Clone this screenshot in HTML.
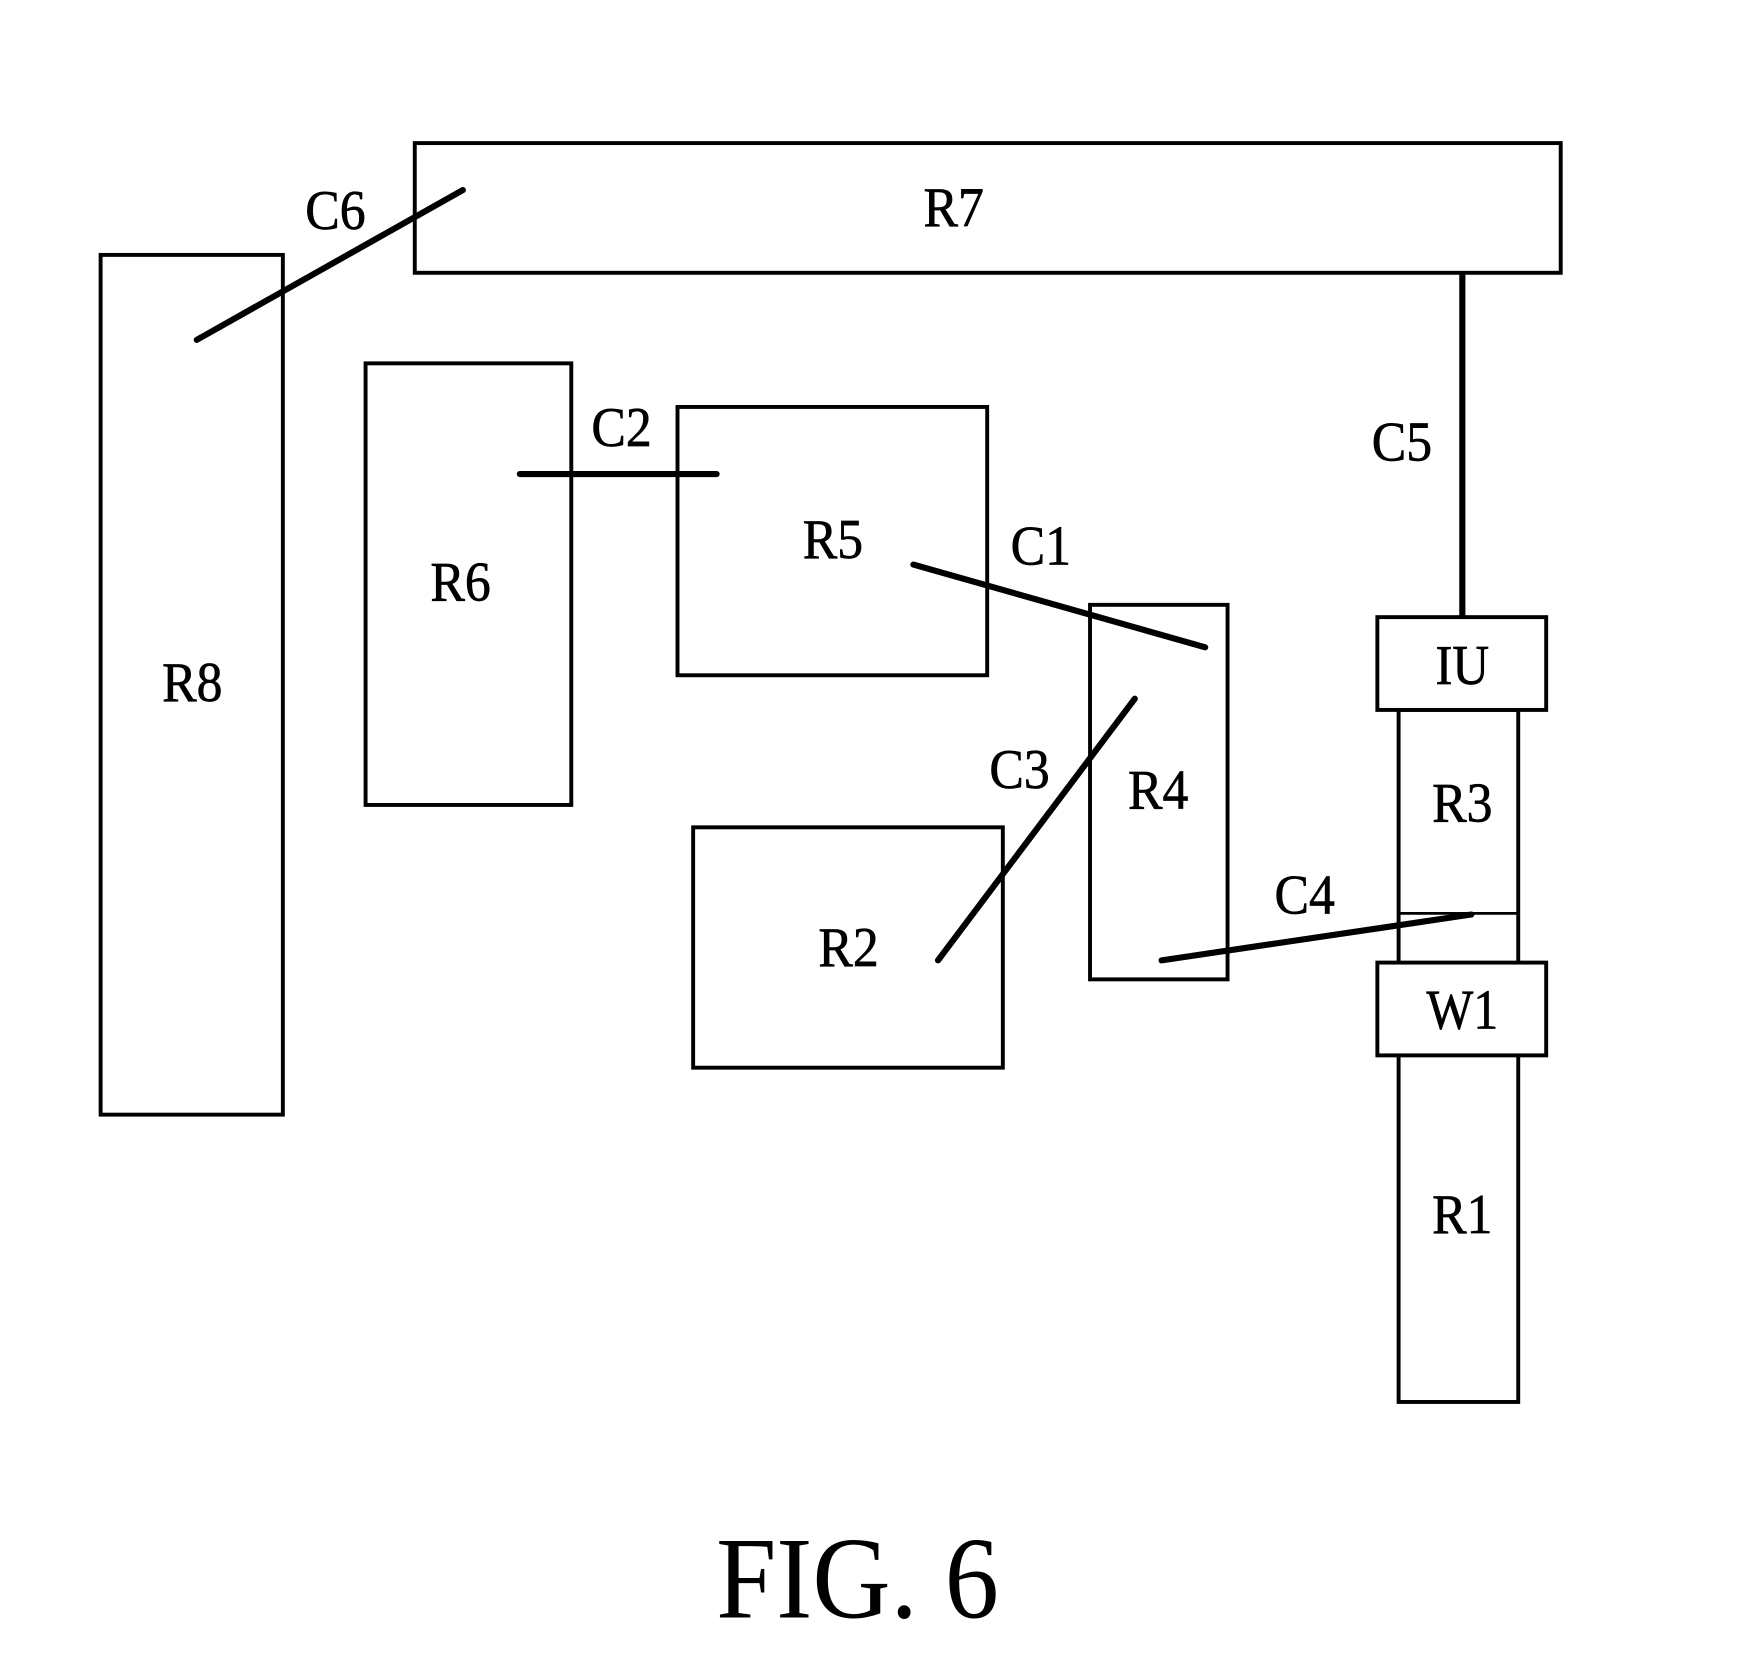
<!DOCTYPE html>
<html><head><meta charset="utf-8"><style>html,body{margin:0;padding:0;background:#fff}svg{display:block}
text{font-family:"Liberation Serif","Times New Roman",Times,serif}</style></head>
<body>
<svg width="1752" height="1661" viewBox="0 0 1567.1 1485.7" xmlns="http://www.w3.org/2000/svg">
<g fill="none" stroke="#000" stroke-width="3.5">
<rect x="371" y="128" width="1025" height="116"/>
<rect x="90" y="228" width="163" height="769"/>
<rect x="327" y="325" width="184" height="395"/>
<rect x="606" y="364" width="277" height="240"/>
<rect x="620" y="740" width="277" height="215"/>
<rect x="975" y="541" width="123" height="335"/>
<rect x="1251" y="635" width="107" height="619"/>
<line x1="1251" y1="817" x2="1358" y2="817" stroke-width="2.5"/>
<rect x="1232" y="552" width="151" height="83" fill="#fff"/>
<rect x="1232" y="861" width="151" height="83" fill="#fff"/>
</g>
<g stroke="#000" stroke-width="5.5" stroke-linecap="round">
<line x1="176" y1="304" x2="414" y2="170"/>
<line x1="465" y1="424" x2="641" y2="424"/>
<line x1="817" y1="505" x2="1078" y2="579"/>
<line x1="839" y1="859" x2="1015" y2="625"/>
<line x1="1039" y1="859" x2="1316" y2="818"/>
<line x1="1308" y1="244" x2="1308" y2="552" stroke-linecap="butt"/>
</g>
<g font-size="50" text-anchor="middle" stroke="#000" stroke-width="0.6">
<text x="853" y="202" textLength="54" lengthAdjust="spacingAndGlyphs">R7</text>
<text x="172" y="627" textLength="54" lengthAdjust="spacingAndGlyphs">R8</text>
<text x="412" y="537" textLength="54" lengthAdjust="spacingAndGlyphs">R6</text>
<text x="745" y="499" textLength="54" lengthAdjust="spacingAndGlyphs">R5</text>
<text x="759" y="864" textLength="54" lengthAdjust="spacingAndGlyphs">R2</text>
<text x="1036" y="723" textLength="54" lengthAdjust="spacingAndGlyphs">R4</text>
<text x="1308" y="612" textLength="48" lengthAdjust="spacingAndGlyphs">IU</text>
<text x="1308" y="735" textLength="54" lengthAdjust="spacingAndGlyphs">R3</text>
<text x="1308" y="920" textLength="64" lengthAdjust="spacingAndGlyphs">W1</text>
<text x="1308" y="1103" textLength="54" lengthAdjust="spacingAndGlyphs">R1</text>
<text x="300" y="205" textLength="54" lengthAdjust="spacingAndGlyphs">C6</text>
<text x="556" y="399" textLength="54" lengthAdjust="spacingAndGlyphs">C2</text>
<text x="931" y="505" textLength="54" lengthAdjust="spacingAndGlyphs">C1</text>
<text x="912" y="705" textLength="54" lengthAdjust="spacingAndGlyphs">C3</text>
<text x="1167" y="817" textLength="54" lengthAdjust="spacingAndGlyphs">C4</text>
<text x="1254" y="412" textLength="54" lengthAdjust="spacingAndGlyphs">C5</text>
</g>
<text x="767" y="1447" font-size="104" text-anchor="middle" textLength="253" lengthAdjust="spacingAndGlyphs">FIG. 6</text>
</svg>
</body></html>
